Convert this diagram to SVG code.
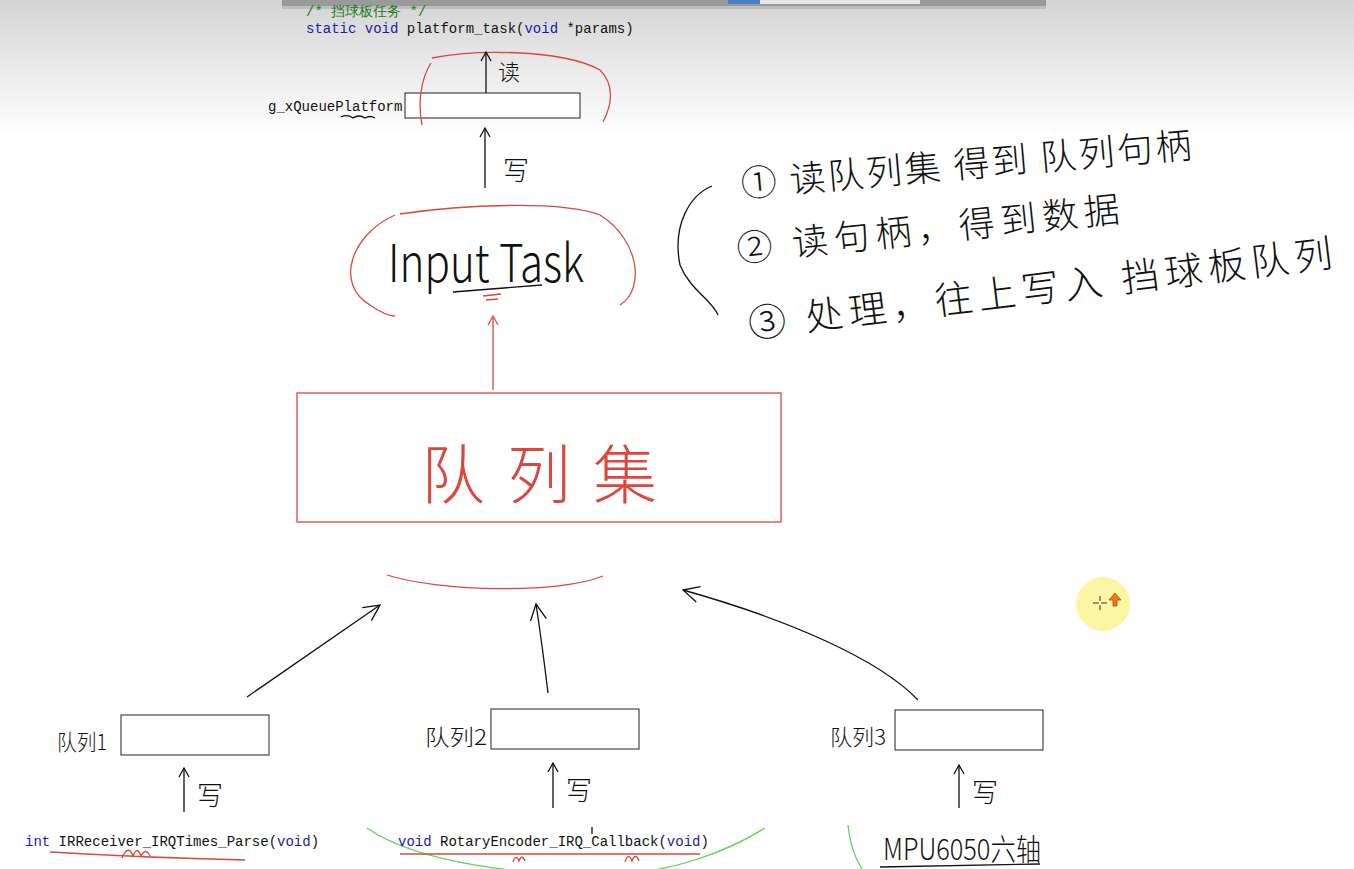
<svg xmlns="http://www.w3.org/2000/svg" width="1354" height="869" viewBox="0 0 1354 869">
<defs>
<linearGradient id="bg" x1="0" y1="0" x2="0" y2="1">
<stop offset="0" stop-color="#d4d4d4"/>
<stop offset="0.55" stop-color="#ececec"/>
<stop offset="1" stop-color="#ffffff"/>
</linearGradient>
<marker id="ah" viewBox="0 0 12 12" refX="10" refY="6" markerWidth="12" markerHeight="12" markerUnits="userSpaceOnUse" orient="auto">
<path d="M1,1 L10,6 L1,11" fill="none" stroke="#111" stroke-width="1.3"/>
</marker>
<marker id="ahr" viewBox="0 0 12 12" refX="10" refY="6" markerWidth="12" markerHeight="12" markerUnits="userSpaceOnUse" orient="auto">
<path d="M1,1 L10,6 L1,11" fill="none" stroke="#d9534a" stroke-width="1.3"/>
</marker>
<marker id="ahb" viewBox="0 0 20 20" refX="18" refY="10" markerWidth="20" markerHeight="20" markerUnits="userSpaceOnUse" orient="auto">
<path d="M2,2 L18,10 L2,18" fill="none" stroke="#111" stroke-width="1.3"/>
</marker>
</defs>
<style>
.hand{font-family:"Noto Sans CJK SC","Liberation Sans",sans-serif;font-weight:300;fill:#111}
.red{fill:#d9473e}
.mono{font-family:"Liberation Mono","DejaVu Sans Mono",monospace;font-size:14px;fill:#111}
.kw{fill:#1a1aa6}
.cm{fill:#1e7a1e}
.box{fill:#fff;stroke:#222;stroke-width:1}
.ln{fill:none;stroke:#111;stroke-width:1.3}
.rl{fill:none;stroke:#d9473e;stroke-width:1.3}
.gl{fill:none;stroke:#5fd35a;stroke-width:1.3}
</style>
<rect x="0" y="0" width="1354" height="869" fill="#fff"/>
<rect x="0" y="0" width="1354" height="135" fill="url(#bg)"/>
<rect x="282" y="0" width="764" height="6" fill="#9a9a9a"/>
<rect x="282" y="6" width="764" height="3" fill="#bdbdbd"/>
<rect x="728" y="0" width="32" height="4" fill="#4a7fc0"/>
<rect x="760" y="0" width="160" height="4" fill="#e8e8e8"/>

<g id="code">
<text class="mono cm" x="306" y="16">/* 挡球板任务 */</text>
<text class="mono" x="306" y="33"><tspan class="kw">static void</tspan> platform_task(<tspan class="kw">void</tspan> *params)</text>
</g>

<g id="platform-queue">
<text class="mono" x="268" y="111">g_xQueuePlatform</text>
<path d="M341,117 q6,-3 12,1 q6,-4 12,0 q5,-3 10,0" class="ln" stroke-width="1"/>
<rect class="box" x="405" y="93" width="175" height="25"/>
<path class="rl" d="M431,63 C420,80 418,105 422,125 M432,58 C470,50 560,48 600,70 C615,85 612,105 603,122"/>
</g>

<g id="connectors">
<line class="ln" x1="486" y1="93" x2="486" y2="52" marker-end="url(#ah)"/>
<line class="ln" x1="485" y1="188" x2="485" y2="128" marker-end="url(#ah)"/>
<line class="rl" x1="493" y1="390" x2="493" y2="316" marker-end="url(#ahr)"/>
<path class="ln" d="M247,697 L380,605" marker-end="url(#ahb)"/>
<path class="ln" d="M548,693 C544,660 540,630 536,604" marker-end="url(#ahb)"/>
<path class="ln" d="M918,700 C880,660 790,620 683,590" marker-end="url(#ahb)"/>
<line class="ln" x1="184" y1="812" x2="184" y2="768" marker-end="url(#ah)"/>
<line class="ln" x1="553" y1="808" x2="553" y2="763" marker-end="url(#ah)"/>
<line class="ln" x1="959" y1="808" x2="959" y2="765" marker-end="url(#ah)"/>
</g>

<g id="labels-rw">
<text class="hand" x="498" y="80" font-size="22">读</text>
<text class="hand" x="503" y="180" font-size="26">写</text>
<text class="hand" x="197" y="805" font-size="26">写</text>
<text class="hand" x="566" y="800" font-size="26">写</text>
<text class="hand" x="972" y="802" font-size="26">写</text>
</g>

<g id="input-task">
<path class="rl" d="M400,214 C460,205 560,200 600,215 C640,240 645,290 620,305 M395,215 C350,235 335,285 370,305 C380,312 390,316 395,316"/>
<text class="hand" x="388" y="282" font-size="52" textLength="196" lengthAdjust="spacingAndGlyphs">Input Task</text>
<path class="ln" d="M453,292 C480,290 515,287 542,285"/>
<path class="rl" d="M483,296 l18,-2 M486,300 l12,-1"/>
</g>

<g id="queue-set">
<rect x="297" y="393" width="484" height="129" fill="#fff" stroke="#d9473e" stroke-width="1.3"/>
<text class="hand red" x="421" y="498" font-size="64" letter-spacing="22">队列集</text>
<path class="rl" d="M387,575 C440,592 560,594 603,576"/>
</g>

<g id="notes">
<path class="ln" d="M712,186 C690,195 672,225 680,265 C690,290 712,300 718,315"/>
<text class="hand" x="742" y="197" font-size="36" transform="rotate(-5 742 197)" textLength="452" lengthAdjust="spacing">① 读队列集 得到 队列句柄</text>
<text class="hand" x="738" y="262" font-size="36" transform="rotate(-6 738 262)" textLength="385" lengthAdjust="spacing">② 读句柄，得到数据</text>
<text class="hand" x="750" y="338" font-size="38" transform="rotate(-7 750 338)" textLength="588" lengthAdjust="spacing">③ 处理，往上写入 挡球板队列</text>
</g>

<g id="queue1">
<text class="hand" x="57" y="750" font-size="22" textLength="50" lengthAdjust="spacingAndGlyphs">队列1</text>
<rect class="box" x="121" y="715" width="148" height="40"/>
</g>
<g id="queue2">
<text class="hand" x="425" y="745" font-size="22" textLength="62" lengthAdjust="spacingAndGlyphs">队列2</text>
<rect class="box" x="491" y="709" width="148" height="40"/>
</g>
<g id="queue3">
<text class="hand" x="830" y="745" font-size="22" textLength="56" lengthAdjust="spacingAndGlyphs">队列3</text>
<rect class="box" x="895" y="710" width="148" height="40"/>
</g>

<g id="source1">
<text class="mono" x="25" y="846"><tspan class="kw">int</tspan> IRReceiver_IRQTimes_Parse(<tspan class="kw">void</tspan>)</text>
<path class="rl" d="M50,852 C100,855 160,858 245,860"/>
<path class="rl" d="M122,858 c5,-12 9,-8 11,-2 c3,-8 6,-6 8,0 c3,-6 6,-6 9,0" stroke-width="1"/>
</g>
<g id="source2">
<path class="gl" d="M367,828 C420,865 530,875 600,875 C670,875 730,850 765,828"/>
<text class="mono" x="398" y="846"><tspan class="kw">void</tspan> RotaryEncoder_IRQ_Callback(<tspan class="kw">void</tspan>)</text>
<line class="rl" x1="400" y1="854" x2="700" y2="854"/>
<path class="rl" d="M513,862 c2,-6 4,-6 6,-1 c2,-5 4,-5 6,0 M625,862 c2,-7 5,-7 7,-1 c2,-6 5,-6 7,0" stroke-width="1"/>
<line class="ln" x1="592" y1="827" x2="592" y2="834" stroke-width="1"/>
</g>
<g id="source3">
<path class="gl" d="M848,825 C850,845 856,860 862,869"/>
<text class="hand" x="883" y="860" font-size="30" textLength="158" lengthAdjust="spacingAndGlyphs">MPU6050六轴</text>
<line class="ln" x1="880" y1="867" x2="1040" y2="864"/>
</g>

<g id="cursor">
<circle cx="1103" cy="604" r="27" fill="#fbf59a" opacity="0.9"/>
<path d="M1093,603 h6 M1101,603 h6 M1100,596 v5 M1100,605 v5" stroke="#333" stroke-width="1"/>
<path d="M1115,593 l-6,7 h4 v6 h4 v-6 h4 z" fill="#f07a1a" stroke="#b04a0a" stroke-width="0.8"/>
</g>
</svg>
